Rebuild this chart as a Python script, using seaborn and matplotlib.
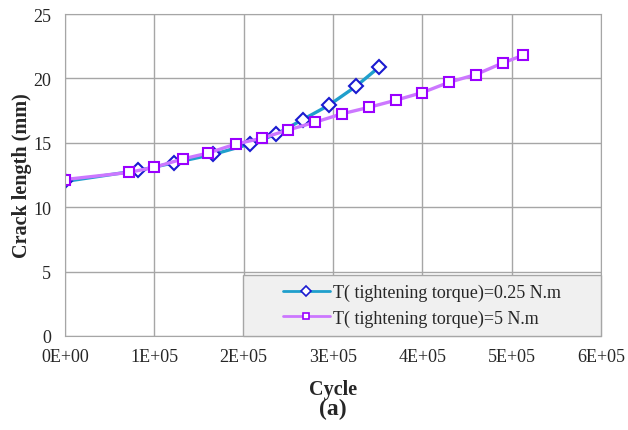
import matplotlib.pyplot as plt
import pandas as pd
import seaborn as sns
from matplotlib.patches import Rectangle

# Data
cycles_a = [0, 82000, 122000, 166000, 207000, 236000, 266000, 295000, 326000, 352000]
crack_a = [12.0, 12.85, 13.45, 14.1, 14.9, 15.65, 16.8, 17.9, 19.4, 20.9]

cycles_b = [0, 71500, 100000, 132000, 160000, 191000, 220000, 250000, 280000,
            310000, 340000, 370000, 400000, 430000, 460000, 490000, 513000]
crack_b = [12.15, 12.7, 13.1, 13.75, 14.2, 14.9, 15.35, 16.0, 16.6,
           17.25, 17.75, 18.3, 18.9, 19.7, 20.3, 21.2, 21.8]

label_a = "T( tightening torque)=0.25 N.m"
label_b = "T( tightening torque)=5 N.m"

sns.set_style("white")
plt.rcParams["font.family"] = ["Liberation Serif", "DejaVu Serif"]

fig = plt.figure(figsize=(6.28, 4.31), dpi=100)
ax = fig.add_axes([65 / 628, 94 / 431, 536 / 628, 322 / 431])

sns.lineplot(
    x=cycles_a, y=crack_a, ax=ax,
    color="#1f9fcc", linewidth=2.4,
    marker="D", markersize=7, markerfacecolor="white",
    markeredgecolor="#1a1ad0", markeredgewidth=1.5,
    label=label_a
)

sns.lineplot(
    x=cycles_b, y=crack_b, ax=ax,
    color="#cc77ff", linewidth=2.4,
    marker="s", markersize=7, markerfacecolor="white",
    markeredgecolor="#9a00ff", markeredgewidth=1.5,
    label=label_b
)

ax.set_xlim(0, 600000)
ax.set_ylim(0, 25)
ax.set_xticks(range(0, 600001, 100000))
ax.set_xticklabels(["0E+00", "1E+05", "2E+05", "3E+05", "4E+05", "5E+05", "6E+05"])
ax.set_yticks(range(0, 26, 5))
ax.tick_params(labelsize=13, length=0)
ax.tick_params(axis="x", pad=9)
ax.tick_params(axis="y", pad=10)

ax.grid(True, color="#a6a6a6", linewidth=1)
ax.set_axisbelow(True)
for s in ax.spines.values():
    s.set_color("#a6a6a6")

ax.set_xlabel("Cycle", fontsize=14.5, fontweight="bold", labelpad=10)
ax.set_ylabel("Crack length (mm)", fontsize=14.5, fontweight="bold", labelpad=1)

# Legend box
ax.add_patch(Rectangle((0.332, 0.0), 0.668, 0.19, transform=ax.transAxes,
                       facecolor="#f0f0f0", edgecolor="#a6a6a6", linewidth=1,
                       zorder=3, clip_on=False))
leg = ax.legend(
    loc="center", bbox_to_anchor=(0.332 + 0.668 / 2, 0.095),
    fontsize=13, frameon=False, handlelength=2.6, handletextpad=0.2,
    borderaxespad=0, labelspacing=0.45
)
leg.set_zorder(4)
for h in leg.legend_handles:
    h.set_markersize(5)
    h.set_markeredgewidth(1.2)
    h.set_linewidth(2)

fig.text(0.5 * (65 + 601) / 628, 22 / 431, "(a)", ha="center", va="center",
         fontsize=17, fontweight="bold")

fig.savefig("out.png", dpi=100)
